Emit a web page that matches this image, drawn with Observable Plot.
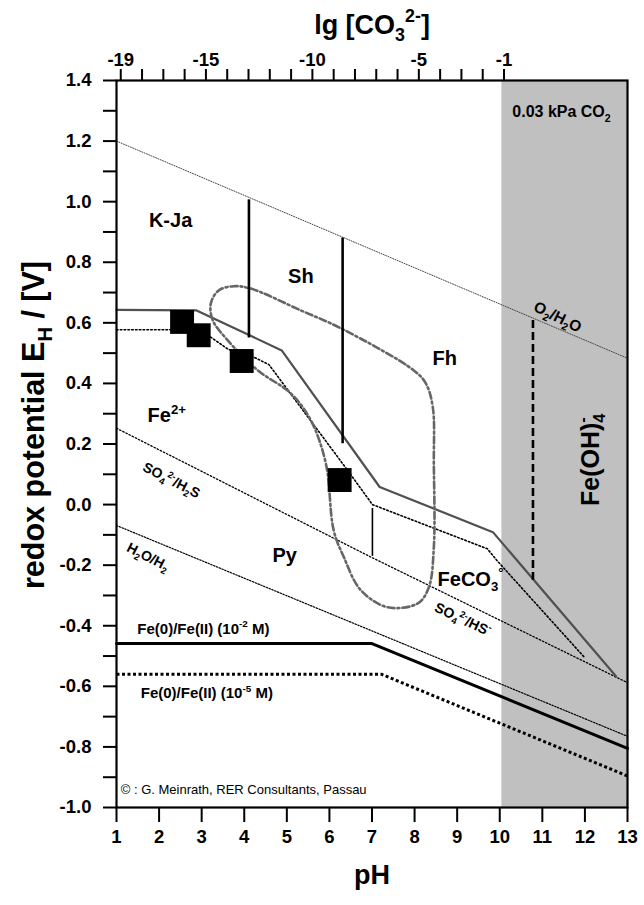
<!DOCTYPE html>
<html>
<head>
<meta charset="utf-8">
<script src="https://cdn.jsdelivr.net/npm/d3@7"></script>
<script src="https://cdn.jsdelivr.net/npm/@observablehq/plot@0.6"></script>
<style>
  html, body { margin: 0; padding: 0; background: #fff; }
  #chart { width: 644px; height: 905px; }
</style>
</head>
<body>
<div id="chart"></div>
<script>
// ---------- data (pH, E_H in V) ----------
const pHTicks = [1, 2, 3, 4, 5, 6, 7, 8, 9, 10, 11, 12, 13];
const eLabels = [-1.0, -0.8, -0.6, -0.4, -0.2, 0.0, 0.2, 0.4, 0.6, 0.8, 1.0, 1.2, 1.4];
const eMinor = [-0.9, -0.7, -0.5, -0.3, -0.1, 0.1, 0.3, 0.5, 0.7, 0.9, 1.1, 1.3];
const co3Ticks = [-19, -18, -17, -16, -15, -14, -13, -12, -11, -10, -9, -8, -7, -6, -5, -4, -3, -2, -1];
const co3Labels = [-19, -15, -10, -5, -1];

const co2Region = [{from: 10.05, to: 13}];

const o2Line   = [[1, 1.2], [13, 0.483]];
const so4Line  = [[1, 0.252], [7, -0.175], [13, -0.588]];
const h2oLine  = [[1, -0.069], [13, -0.765]];
const fe0Line2 = [[1, -0.459], [7.0, -0.459], [13, -0.805]];
const fe0Line5 = [[1, -0.56], [7.22, -0.56], [13, -0.896]];

const fe3Boundary = [[1, 0.643], [2.88, 0.641], [4.88, 0.509], [7.18, 0.058], [9.84, -0.091], [12.73, -0.567]];
const sideriteBoundary = [[1, 0.577], [2.6, 0.577], [3.21, 0.553], [3.63, 0.512], [4.25, 0.485], [4.58, 0.462],
  [6.37, 0.124], [7.01, 0.0], [9.71, -0.146], [9.93, -0.184], [11.98, -0.503]];

const fieldOutline = [[3.755, 0.721], [4.154, 0.713], [5.328, 0.641], [6.268, 0.582], [7.982, 0.443], [8.264, 0.400],
  [8.428, 0.321], [8.452, 0.136], [8.452, -0.141], [8.335, -0.273], [8.076, -0.326], [7.372, -0.339],
  [6.739, -0.283], [6.34, -0.174], [6.1, -0.085], [5.916, 0.136], [5.563, 0.278], [5.094, 0.367],
  [4.319, 0.443], [3.614, 0.542], [3.262, 0.608], [3.215, 0.664], [3.40, 0.707]];

const solidBars = [{pH: 4.11, top: 1.006, bottom: 0.55}, {pH: 6.31, top: 0.88, bottom: 0.201}];
const thinBars = [{pH: 7.01, top: -0.013, bottom: -0.171}];
const dashedBars = [{pH: 10.78, top: 0.608, bottom: -0.25}];

const samples = [[2.54, 0.603], [2.93, 0.559], [3.94, 0.474], [6.24, 0.081]];

const fieldLabels = [
  {t: "K-Ja", pH: 2.27, E: 0.938},
  {t: "Sh", pH: 5.33, E: 0.751},
  {t: "Fh", pH: 8.71, E: 0.481},
  {t: "Fe^{2+}", pH: 2.18, E: 0.294},
  {t: "Py", pH: 4.95, E: -0.168}
];
const fecoLabel = [{t: "FeCO_{3}^{°}", pH: 8.54, E: -0.247}];
const lineLabels = [
  {t: "SO_{4}^{2-}/H_{2}S", pH: 2.29, E: 0.08, a: 27},
  {t: "H_{2}O/H_{2}", pH: 1.74, E: -0.173, a: 27},
  {t: "SO_{4}^{2-}/HS^{-}", pH: 9.13, E: -0.379, a: 25}
];
const o2Label = [{t: "O_{2}/H_{2}O", pH: 11.36, E: 0.619, a: 26}];
const feLabels = [
  {t: "Fe(0)/Fe(II) (10^{-2} M)", pH: 1.49, E: -0.41},
  {t: "Fe(0)/Fe(II) (10^{-5} M)", pH: 1.57, E: -0.624}
];
const co2Label = [{t: "0.03 kPa CO_{2}", pH: 11.45, E: 1.295}];
const hydroxoLabel = [{t: "Fe(OH)_{4}~{-}", pH: 12.14, E: 0.148}];
const creditLabel = [{t: "© : G. Meinrath, RER Consultants, Passau", pH: 1.1, E: -0.943}];

// lg[CO3 2-] relates to pH at 0.03 kPa CO2 as lg = 2 pH - 21.2
const co3ToPH = (lg) => (lg + 21.2) / 2;
const pHToCo3 = (p) => Math.round(2 * p - 21.2);

const FONT = "'Liberation Sans', Arial, Helvetica, sans-serif";
const px = d => d[0], py = d => d[1];

const chart = Plot.plot({
  width: 644,
  height: 905,
  marginLeft: 116,
  marginRight: 17,
  marginTop: 80,
  marginBottom: 98,
  x: {domain: [1, 13]},
  y: {domain: [-1, 1.4]},
  style: {fontFamily: FONT, background: "white", overflow: "visible"},
  marks: [
    Plot.rect(co2Region, {x1: "from", x2: "to", fill: "#c0c0c0"}),
    // water / sulfur lines
    Plot.line(o2Line, {x: px, y: py, stroke: "#444", strokeWidth: 1, strokeDasharray: "1,1.5"}),
    Plot.line(so4Line, {x: px, y: py, stroke: "#000", strokeWidth: 1.3, strokeDasharray: "1.5,2"}),
    Plot.line(h2oLine, {x: px, y: py, stroke: "#000", strokeWidth: 1.2, strokeDasharray: "1.5,1.5"}),
    // Fe(0)/Fe(II)
    Plot.line(fe0Line2, {x: px, y: py, stroke: "#000", strokeWidth: 3}),
    Plot.line(fe0Line5, {x: px, y: py, stroke: "#000", strokeWidth: 3, strokeDasharray: "3,2.5", strokeLinecap: "butt"}),
    // mineral boundaries
    Plot.line(sideriteBoundary, {x: px, y: py, stroke: "#000", strokeWidth: 1.6, strokeDasharray: "1.6,2.2"}),
    Plot.line(fe3Boundary, {x: px, y: py, stroke: "#505050", strokeWidth: 2.2}),
    Plot.line(fieldOutline, {x: px, y: py, curve: "catmull-rom-closed", stroke: "#666", strokeWidth: 2.6, strokeDasharray: "7,3,2,3"}),
    Plot.ruleX(solidBars, {x: "pH", y1: "top", y2: "bottom", stroke: "#000", strokeWidth: 2.6}),
    Plot.ruleX(thinBars, {x: "pH", y1: "top", y2: "bottom", stroke: "#000", strokeWidth: 1.6}),
    Plot.ruleX(dashedBars, {x: "pH", y1: "top", y2: "bottom", stroke: "#000", strokeWidth: 2.6, strokeDasharray: "8,4"}),
    Plot.dot(samples, {x: px, y: py, symbol: "square", r: 13.5, fill: "#000", stroke: null}),
    // labels
    Plot.text(fieldLabels, {x: "pH", y: "E", text: "t", fontSize: 20, fontWeight: "bold", fill: "#000"}),
    Plot.text(fecoLabel, {x: "pH", y: "E", text: "t", fontSize: 20, fontWeight: "bold", fill: "#000", textAnchor: "start"}),
    Plot.text(lineLabels, {x: "pH", y: "E", text: "t", rotate: "a", fontSize: 14, fontWeight: "bold", fill: "#000"}),
    Plot.text(o2Label, {x: "pH", y: "E", text: "t", rotate: "a", fontSize: 15.5, fontWeight: "bold", fill: "#000"}),
    Plot.text(feLabels, {x: "pH", y: "E", text: "t", fontSize: 15, fontWeight: "bold", fill: "#000", textAnchor: "start"}),
    Plot.text(co2Label, {x: "pH", y: "E", text: "t", fontSize: 16, fontWeight: "bold", fill: "#000"}),
    Plot.text(hydroxoLabel, {x: "pH", y: "E", text: "t", rotate: -90, fontSize: 25, fontWeight: "bold", fill: "#000"}),
    Plot.text(creditLabel, {x: "pH", y: "E", text: "t", fontSize: 13, fill: "#000", textAnchor: "start"}),
    // axes
    Plot.axisY(eMinor, {anchor: "left", tickSize: 13, tickFormat: () => "", strokeWidth: 2, label: null}),
    Plot.axisY(eLabels, {anchor: "left", tickSize: 13, tickPadding: 12, tickFormat: d => d.toFixed(1),
      strokeWidth: 2, fontSize: 18.5, fontWeight: "bold", fill: "#000", label: null}),
    Plot.axisX(pHTicks, {anchor: "bottom", tickSize: 15, tickPadding: 7, tickFormat: d => String(d),
      strokeWidth: 2, fontSize: 18.5, fontWeight: "bold", fill: "#000", label: null}),
    Plot.axisX(co3Ticks.map(co3ToPH), {anchor: "top", tickSize: 12, tickPadding: 3,
      tickFormat: p => co3Labels.includes(pHToCo3(p)) ? String(pHToCo3(p)) : "",
      strokeWidth: 2, fontSize: 18.5, fontWeight: "bold", fill: "#000", label: null}),
    Plot.frame({stroke: "#000", strokeWidth: 2.2}),
    // axis titles
    Plot.text(["pH"], {frameAnchor: "bottom", dy: 76, fontSize: 27, fontWeight: "bold", fill: "#000"}),
    Plot.text(["lg [CO_{3}^{2-}]"], {frameAnchor: "top", dy: -66, fontSize: 27, fontWeight: "bold", fill: "#000"}),
    Plot.text(["redox potential E_{H} / [V]"], {frameAnchor: "left", rotate: -90, textAnchor: "middle", dx: -82, dy: -19, fontSize: 30.5, fontWeight: "bold", fill: "#000"})
  ]
});

document.getElementById("chart").appendChild(chart);

// convert _{..} subscripts, ^{..} superscripts and ~{..} stacked superscripts into tspans
function richify(root) {
  const NS = "http://www.w3.org/2000/svg";
  root.querySelectorAll("text").forEach(t => {
    const s = t.textContent;
    if (!/[_^~]\{/.test(s)) return;
    const fs = parseFloat(getComputedStyle(t).fontSize) || 12;
    const parts = [];
    const re = /([_^~])\{([^}]*)\}/g;
    let last = 0, m;
    while ((m = re.exec(s))) {
      if (m.index > last) parts.push({k: "", s: s.slice(last, m.index)});
      parts.push({k: m[1], s: m[2]});
      last = re.lastIndex;
    }
    if (last < s.length) parts.push({k: "", s: s.slice(last)});
    while (t.firstChild) t.removeChild(t.firstChild);
    let cur = 0, prevSub = null;
    for (const p of parts) {
      const ts = document.createElementNS(NS, "tspan");
      let shift = 0;
      if (p.k === "_") { shift = 0.26 * fs; ts.setAttribute("font-size", (0.66 * fs).toFixed(2)); }
      else if (p.k === "^" || p.k === "~") { shift = -0.42 * fs; ts.setAttribute("font-size", (0.66 * fs).toFixed(2)); }
      ts.setAttribute("dy", (shift - cur).toFixed(2));
      cur = shift;
      ts.textContent = p.s;
      t.appendChild(ts);
      if (p.k === "~" && prevSub) ts.setAttribute("dx", (-prevSub.getComputedTextLength()).toFixed(2));
      prevSub = p.k === "_" ? ts : null;
    }
  });
}
richify(chart);
</script>
</body>
</html>
